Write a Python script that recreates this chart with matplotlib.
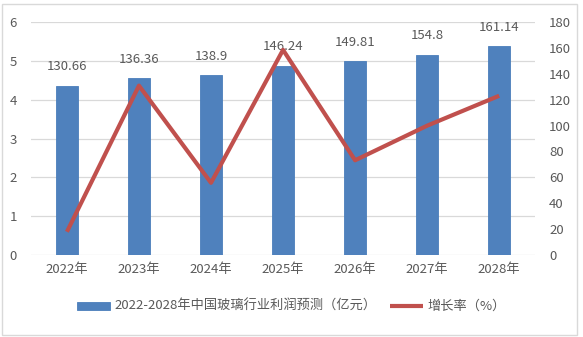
import numpy as np
import matplotlib.pyplot as plt
from matplotlib.patches import Rectangle

plt.rcParams['font.family'] = ['Noto Sans CJK SC', 'DejaVu Sans']

years = ['2022年', '2023年', '2024年', '2025年', '2026年', '2027年', '2028年']
profit = [130.66, 136.36, 138.9, 146.24, 149.81, 154.8, 161.14]  # 亿元
growth = [0.6, 4.36, 1.86, 5.28, 2.44, 3.33, 4.10]  # %

bar_color = '#4F81BD'
line_color = '#C0504D'
txt = '#595959'

fig = plt.figure(figsize=(5.83, 3.37), dpi=100)
ax = fig.add_axes([0.053, 0.243, 0.865, 0.692])
ax2 = ax.twinx()

x = np.arange(len(years))
bars = ax2.bar(x, profit, width=0.3, color=bar_color, edgecolor='#4A7EBB', linewidth=0.6,
               label='2022-2028年中国玻璃行业利润预测（亿元）', zorder=2)
for xi, v in zip(x, profit):
    ax2.annotate(f'{v:g}', (xi, v), xytext=(0, 9), textcoords='offset points',
                 ha='center', va='bottom', fontsize=9.5, color=txt)

line, = ax.plot(x, growth, color=line_color, linewidth=3, label='增长率（%）', solid_capstyle='butt')

ax.set_zorder(ax2.get_zorder() + 1)
ax.patch.set_visible(False)

ax.set_xlim(-0.5, len(years) - 0.5)
ax.set_ylim(0, 6)
ax2.set_ylim(0, 180)
ax.set_yticks(range(0, 7))
ax2.set_yticks(range(0, 181, 20))
ax.set_xticks(x)
ax.set_xticklabels(years)

for a in (ax, ax2):
    for s in a.spines.values():
        s.set_visible(False)
    a.tick_params(length=0, colors=txt, labelsize=9.5)
ax.tick_params(axis='x', pad=6)
ax.tick_params(axis='y', pad=10)
ax2.tick_params(axis='y', pad=10)

# gridlines follow the left axis (every 1 unit = 30 on the right)
for yv in range(0, 181, 30):
    ax2.axhline(yv, color='#D9D9D9', linewidth=0.9, zorder=0)

fig.legend([bars, line], [bars.get_label(), line.get_label()], loc='center',
           bbox_to_anchor=(0.5, 0.09), ncol=2, frameon=False, fontsize=9.5,
           labelcolor=txt, handlelength=2.5, handleheight=0.55, columnspacing=1.0,
           handletextpad=0.35)

fig.patches.append(Rectangle((0.004, 0.006), 0.985, 0.982, transform=fig.transFigure,
                             fill=False, edgecolor='#D9D9D9', linewidth=1))

fig.savefig('out.png', dpi=100)
